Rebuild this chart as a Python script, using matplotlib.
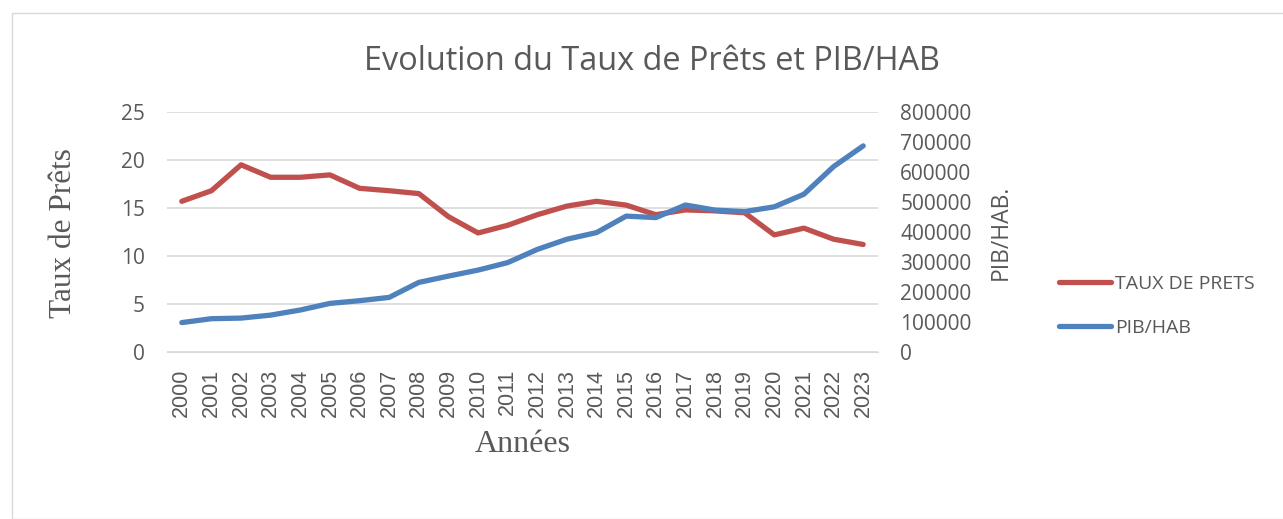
import matplotlib
matplotlib.use("Agg")
import matplotlib.pyplot as plt
from matplotlib.patches import Rectangle
from matplotlib.lines import Line2D

years = [str(y) for y in range(2000, 2024)]
taux_prets = [15.7, 16.8, 19.5, 18.2, 18.2, 18.45, 17.05, 16.8, 16.5, 14.1, 12.4, 13.2,
              14.3, 15.2, 15.7, 15.3, 14.3, 14.8, 14.7, 14.5, 12.2, 12.9, 11.75, 11.2]
pib_hab = [98000, 111000, 113000, 123000, 140000, 162000, 171000, 182000, 232000, 253000,
           273000, 298000, 342000, 376000, 398000, 453000, 448000, 490000, 473000, 468000,
           484000, 526000, 618000, 687000]
left_ticks = [0, 5, 10, 15, 20, 25]
right_ticks = [0, 100000, 200000, 300000, 400000, 500000, 600000, 700000, 800000]

RED = "#C0504D"
BLUE = "#4F81BD"
GRAY = "#595959"
SANS = ["Open Sans", "DejaVu Sans"]
ARIAL = ["Liberation Sans", "DejaVu Sans"]
SERIF = ["Liberation Serif", "DejaVu Serif"]

W, H = 1283, 519
fig = plt.figure(figsize=(W / 100, H / 100), dpi=100)
fig.patches.append(Rectangle((12 / W, 0), 1.0, 1 - 13 / H, transform=fig.transFigure,
                             fill=False, edgecolor="#D9D9D9", linewidth=1.0))

ax = fig.add_axes([167 / W, 1 - 352 / H, (878 - 167) / W, (352 - 112) / H])
ax2 = ax.twinx()

x = list(range(len(years)))
ax.plot(x, taux_prets, color=RED, linewidth=3.8, solid_capstyle="round", zorder=3)
ax2.plot(x, pib_hab, color=BLUE, linewidth=3.8, solid_capstyle="round", zorder=3)

ax.set_xlim(-0.5, len(years) - 0.5)
ax.set_ylim(0, 25)
ax2.set_ylim(0, 800000)
ax.set_yticks(left_ticks)
ax2.set_yticks(right_ticks)
ax.yaxis.grid(True, color="#D9D9D9", linewidth=1.2)
ax.set_axisbelow(True)

ax.set_xticks(x)
ax.set_xticklabels(years, rotation=90, fontsize=15.5, color=GRAY, family=ARIAL)
ax.set_yticklabels([str(v) for v in left_ticks], fontsize=15, color=GRAY, family=SANS)
ax2.set_yticklabels([str(v) for v in right_ticks], fontsize=15, color=GRAY, family=SANS)

for a in (ax, ax2):
    for s in a.spines.values():
        s.set_visible(False)
ax.tick_params(axis="x", length=0, pad=12)
ax.tick_params(axis="y", length=0, pad=16)
ax2.tick_params(axis="y", length=0, pad=16)
ax.spines["bottom"].set_visible(True)
ax.spines["bottom"].set_color("#D9D9D9")

ax.set_xlabel("Années", fontsize=23, family=SERIF, color=GRAY)
ax.xaxis.set_label_coords(0.5, -0.3875)
ax.xaxis.label.set_va("center")
ax.set_ylabel("Taux de Prêts", fontsize=22.5, family=SERIF, color=GRAY)
ax.yaxis.set_label_coords(-0.146, 0.495)
ax.yaxis.label.set_va("center")
ax2.set_ylabel("PIB/HAB.", fontsize=16.5, family=SANS, color=GRAY)
ax2.yaxis.set_label_coords(1.173, 0.5)
ax2.yaxis.label.set_va("center")

fig.text(652 / W, 1 - 61 / H, "Evolution du Taux de Prêts et PIB/HAB", ha="center",
         va="center", fontsize=23.4, color=GRAY, family=SANS)

handles = [Line2D([], [], color=RED, linewidth=3.8, solid_capstyle="round"),
           Line2D([], [], color=BLUE, linewidth=3.8, solid_capstyle="round")]
fig.legend(handles, ["TAUX DE PRETS", "PIB/HAB"], loc="center left",
           bbox_to_anchor=(1041 / W, 1 - 306 / H), frameon=False,
           labelcolor=GRAY, prop={"family": SANS, "size": 14}, handlelength=2.7,
           handletextpad=0.2, labelspacing=1.35)

fig.savefig("out.png", dpi=100)
